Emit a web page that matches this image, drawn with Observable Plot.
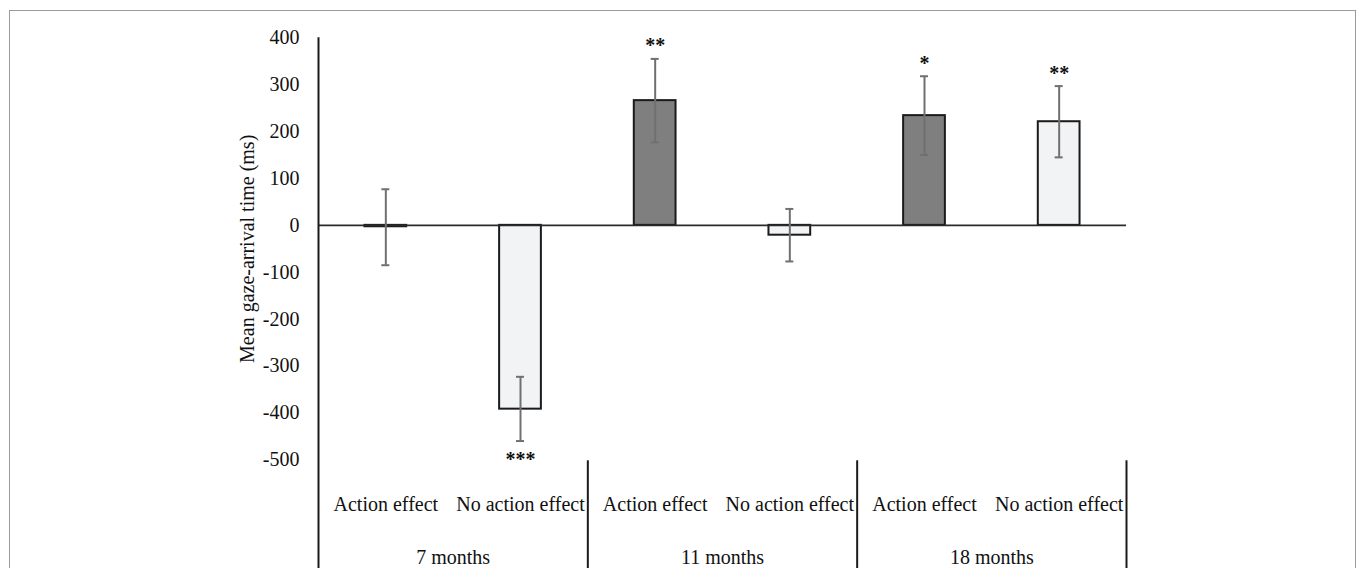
<!DOCTYPE html>
<html>
<head>
<meta charset="utf-8">
<script src="https://cdn.jsdelivr.net/npm/d3@7"></script>
<script src="https://cdn.jsdelivr.net/npm/@observablehq/plot@0.6"></script>
<style>
  html, body { margin: 0; padding: 0; background: #fff; }
  #wrap { position: relative; width: 1357px; height: 568px; overflow: hidden; }
  #border { position: absolute; left: 9px; top: 10px; width: 1345px; height: 600px;
            border: 1.5px solid #9a9a9a; pointer-events: none; }
</style>
</head>
<body>
<div id="wrap"><div id="border"></div></div>
<script>
// ---- data ----
const groups = ["7 months", "11 months", "18 months"];
const conditions = ["Action effect", "No action effect"];
const means   = [-3, -392, 266, -21, 234, 221];
const errLow  = [-85, -460, 177, -77, 150, 145];
const errHigh = [77, -323, 355, 35, 318, 297];
const stars   = ["", "***", "**", "", "*", "**"];
const yTicks  = [400, 300, 200, 100, 0, -100, -200, -300, -400, -500];
const yTitle  = "Mean gaze-arrival time (ms)";

const rows = means.map((m, i) => ({
  i, group: groups[Math.floor(i / 2)], cond: conditions[i % 2],
  mean: m, lo: errLow[i], hi: errHigh[i], star: stars[i]
}));
const monthRows = groups.map((g, j) => ({g, j}));
const half = 0.155;
const fillFor = c => c === conditions[0] ? "#7f7f7f" : "#f2f3f4";

const chart = Plot.plot({
  width: 1357,
  height: 568,
  marginLeft: 318,
  marginRight: 231,
  marginTop: 37.3,
  marginBottom: 108.7,
  style: {fontFamily: "'Liberation Serif', 'Times New Roman', serif", fontSize: "20px", color: "#111", background: "transparent", overflow: "visible"},
  x: {type: "linear", domain: [0, 6], axis: null},
  y: {domain: [-500, 400], ticks: yTicks, tickSize: 0, tickPadding: 19, tickFormat: d => String(d), label: null},
  marks: [
    // bars
    Plot.rect(rows, {
      x1: d => d.i + 0.5 - half, x2: d => d.i + 0.5 + half,
      y1: 0, y2: "mean",
      fill: d => fillFor(d.cond), stroke: "#1a1a1a", strokeWidth: 2
    }),
    // zero line
    Plot.ruleY([0], {stroke: "#2a2a2a", strokeWidth: 1.6}),
    // left axis line (extends into the label area)
    Plot.ruleX([0], {stroke: "#1a1a1a", strokeWidth: 2, insetBottom: -120}),
    // group dividers in label area
    Plot.ruleX([2, 4, 6], {stroke: "#1a1a1a", strokeWidth: 2, insetTop: 423, insetBottom: -120}),
    // error bars
    Plot.ruleX(rows, {x: d => d.i + 0.5, y1: "lo", y2: "hi", stroke: "#707070", strokeWidth: 2}),
    Plot.ruleY(rows, {x1: d => d.i + 0.5, x2: d => d.i + 0.5, y: "lo", insetLeft: -4, insetRight: -4, stroke: "#707070", strokeWidth: 2}),
    Plot.ruleY(rows, {x1: d => d.i + 0.5, x2: d => d.i + 0.5, y: "hi", insetLeft: -4, insetRight: -4, stroke: "#707070", strokeWidth: 2}),
    // significance stars
    Plot.text(rows.filter(d => d.star && d.mean >= 0), {x: d => d.i + 0.5, y: "hi", text: "star", dy: -13, fontSize: 20, fontWeight: "bold", fill: "#111", lineAnchor: "middle"}),
    Plot.text(rows.filter(d => d.star && d.mean < 0), {x: d => d.i + 0.5, y: "lo", text: "star", dy: 19, fontSize: 20, fontWeight: "bold", fill: "#111", lineAnchor: "middle"}),
    // condition labels
    Plot.text(rows, {x: d => d.i + 0.5, text: "cond", frameAnchor: "bottom", dy: 44.6, fontSize: 20, fill: "#111", lineAnchor: "middle"}),
    // month labels
    Plot.text(monthRows, {x: d => 2 * d.j + 1, text: "g", frameAnchor: "bottom", dy: 98, fontSize: 20, fill: "#111", lineAnchor: "middle"}),
    // y axis title
    Plot.text([yTitle], {text: d => d, frameAnchor: "left", rotate: -90, dx: -71, fontSize: 20, fill: "#111", lineAnchor: "middle", textAnchor: "middle"})
  ]
});
document.getElementById("wrap").prepend(chart);
</script>
</body>
</html>
